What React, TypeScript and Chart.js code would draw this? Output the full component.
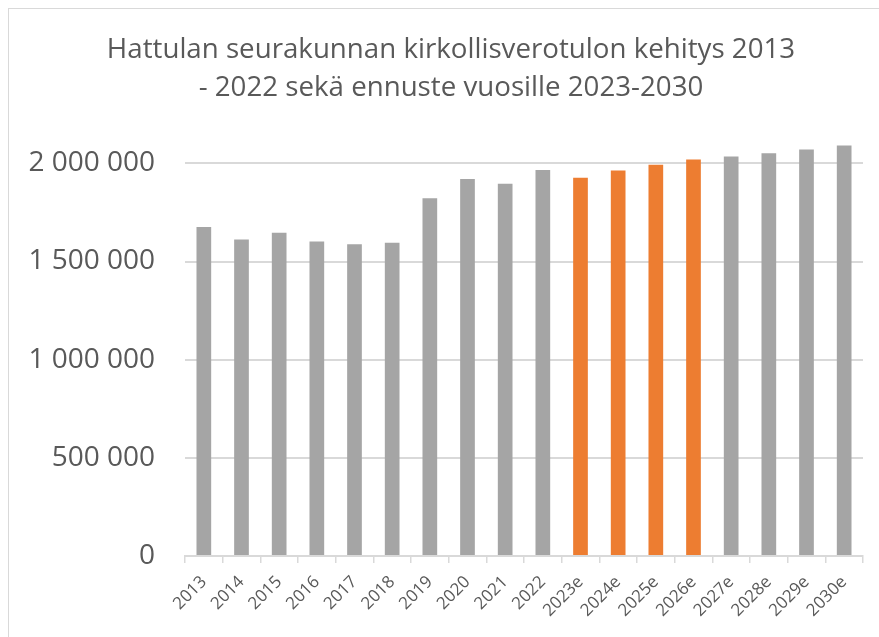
import React, { useEffect, useRef } from "react";
import { Chart, registerables } from "chart.js";

Chart.register(...registerables);

const titleLines = [
  "Hattulan seurakunnan kirkollisverotulon kehitys 2013",
  "- 2022 sekä ennuste vuosille 2023-2030",
];

const categories = [
  "2013", "2014", "2015", "2016", "2017", "2018", "2019", "2020", "2021",
  "2022", "2023e", "2024e", "2025e", "2026e", "2027e", "2028e", "2029e", "2030e",
];

const values = [
  1676000, 1612000, 1646000, 1602000, 1588000, 1596000, 1822000, 1920000,
  1896000, 1966000, 1927000, 1963000, 1993000, 2019000, 2035000, 2051000,
  2071000, 2091000,
];

const highlighted = ["2023e", "2024e", "2025e", "2026e"];

const yTicks = [0, 500000, 1000000, 1500000, 2000000];

const FONT = "'Open Sans', 'Noto Sans', sans-serif";
const GRAY = "#a5a5a5";
const ORANGE = "#ed7d31";
const TEXT = "#595959";
const GRID = "#d9d9d9";

function fmt(v: number): string {
  return String(Math.round(v)).replace(/\B(?=(\d{3})+(?!\d))/g, " ");
}

const centerTitle = {
  id: "centerTitle",
  afterLayout(chart: any) {
    const t = chart.titleBlock;
    if (t) {
      t.left = 0;
      t.right = chart.width;
      t.width = chart.width;
    }
  },
};

export default function App() {
  const ref = useRef<HTMLCanvasElement | null>(null);

  useEffect(() => {
    if (!ref.current) return;
    const chart = new Chart(ref.current, {
      type: "bar",
      data: {
        labels: categories,
        datasets: [
          {
            data: values,
            backgroundColor: categories.map((c) =>
              highlighted.includes(c) ? ORANGE : GRAY
            ),
            categoryPercentage: 1,
            barPercentage: 0.39,
          },
        ],
      },
      plugins: [centerTitle],
      options: {
        animation: false,
        responsive: false,
        devicePixelRatio: 1,
        layout: { padding: { left: 0, right: 30, top: 0, bottom: 0 } },
        plugins: {
          legend: { display: false },
          tooltip: { enabled: false },
          title: {
            display: true,
            text: titleLines,
            color: TEXT,
            font: { family: FONT, size: 27.7, weight: "normal", lineHeight: 1.37 },
            padding: { top: 22, bottom: 27 },
          },
        },
        scales: {
          x: {
            grid: {
              offset: true,
              drawOnChartArea: false,
              drawTicks: true,
              tickLength: 7,
              color: GRID,
              lineWidth: 1.5,
            },
            border: { color: GRID, width: 2 },
            ticks: {
              minRotation: 45,
              maxRotation: 45,
              color: TEXT,
              font: { family: FONT, size: 17 },
              padding: 9,
            },
            afterFit: (s: any) => {
              s.height = 81;
            },
          },
          y: {
            min: 0,
            max: 2150000,
            afterBuildTicks: (axis: any) => {
              axis.ticks = yTicks.map((v) => ({ value: v }));
            },
            grid: { color: GRID, lineWidth: 2, drawTicks: false },
            border: { display: false },
            ticks: {
              color: TEXT,
              font: { family: FONT, size: 28 },
              padding: 30,
              callback: (v: any) => fmt(Number(v)),
            },
            afterFit: (s: any) => {
              s.width = 176;
            },
          },
        },
      },
    });
    return () => chart.destroy();
  }, []);

  return (
    <div
      style={{
        position: "fixed",
        left: 0,
        top: 0,
        width: 879,
        height: 637,
        overflow: "hidden",
        background: "#ffffff",
      }}
    >
      <div
        style={{
          position: "absolute",
          left: 8,
          top: 8,
          width: 1000,
          height: 1000,
          border: "1.5px solid #d9d9d9",
        }}
      />
      <canvas
        ref={ref}
        width={884}
        height={628}
        style={{ position: "absolute", left: 9, top: 9, width: 884, height: 628 }}
      />
    </div>
  );
}
